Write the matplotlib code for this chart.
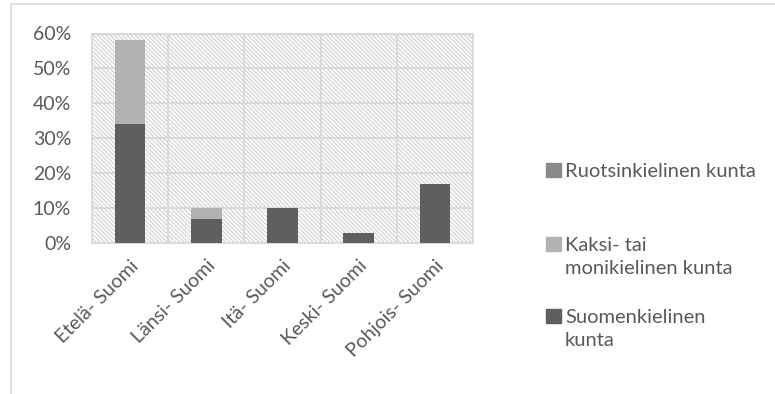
import matplotlib.pyplot as plt
import matplotlib.patches as mpatches
import numpy as np

plt.rcParams['font.family'] = ['Lato', 'DejaVu Sans']
plt.rcParams['hatch.color'] = '#d9d9d9'
plt.rcParams['hatch.linewidth'] = 1.0

regions = ['Etelä- Suomi', 'Länsi- Suomi', 'Itä- Suomi', 'Keski- Suomi', 'Pohjois- Suomi']
suomi = [34, 7, 10, 3, 17]
kaksi = [24, 3, 0, 0, 0]
ruotsi = [0, 0, 0, 0, 0]
legend_labels = ['Ruotsinkielinen kunta', 'Kaksi- tai\nmonikielinen kunta', 'Suomenkielinen\nkunta']

c_suomi = '#5f5f5f'
c_kaksi = '#b2b2b2'
c_ruotsi = '#8a8a8a'
txt = '#595959'
grid = '#d9d9d9'

fig = plt.figure(figsize=(7.75, 3.94), dpi=100)
W, H = 775, 394
ax = fig.add_axes([92 / W, 1 - 243 / H, 381 / W, (243 - 33.5) / H])

# outer chart frame
fig.patches.append(mpatches.Rectangle((11 / W, -0.1), 2, (H - 4) / H + 0.1,
                                      transform=fig.transFigure, fill=False,
                                      edgecolor=grid, linewidth=1.2))

x = np.arange(len(regions))
ax.set_xlim(-0.5, len(regions) - 0.5)
ax.set_ylim(0, 60)

# hatched plot background
ax.add_patch(mpatches.Rectangle((-0.5, 0), len(regions), 60, facecolor='white',
                                edgecolor='#d9d9d9', hatch='\\' * 8, linewidth=0, zorder=0))

bottom2 = np.array(suomi) + np.array(kaksi)
b1 = ax.bar(x, suomi, width=0.4, color=c_suomi, zorder=3)
b2 = ax.bar(x, kaksi, width=0.4, bottom=suomi, color=c_kaksi, zorder=3)
b3 = ax.bar(x, ruotsi, width=0.4, bottom=bottom2, color=c_ruotsi, zorder=3)

for y in range(10, 61, 10):
    ax.axhline(y, color=grid, linewidth=1.3, zorder=1)
for xv in np.arange(0.5, len(regions) - 0.5, 1):
    ax.axvline(xv, color=grid, linewidth=1.3, zorder=1)
for s in ax.spines.values():
    s.set_color(grid)
    s.set_linewidth(1.3)

ax.set_yticks(range(0, 61, 10))
ax.set_yticklabels([f'{v}%' for v in range(0, 61, 10)], fontsize=14, color=txt)
ax.set_xticks(x)
ax.set_xticklabels(regions, rotation=45, ha='right', rotation_mode='anchor',
                   fontsize=14, color=txt)
ax.tick_params(axis='y', length=0, pad=15)
ax.tick_params(axis='x', length=0, pad=10)

# legend: square handle next to the first line of each label
leg_colors = [c_ruotsi, c_kaksi, c_suomi]
leg_y = [170, 244, 316]
for col, lab, yy in zip(leg_colors, legend_labels, leg_y):
    fig.patches.append(mpatches.Rectangle((546 / W, 1 - (yy + 7) / H), 15 / W, 14 / H,
                                          transform=fig.transFigure, color=col))
    fig.text(565 / W, 1 - (yy - 7) / H, lab, fontsize=14.5, color=txt,
             va='top', ha='left', linespacing=1.42)

fig.savefig('out.png', dpi=100)
